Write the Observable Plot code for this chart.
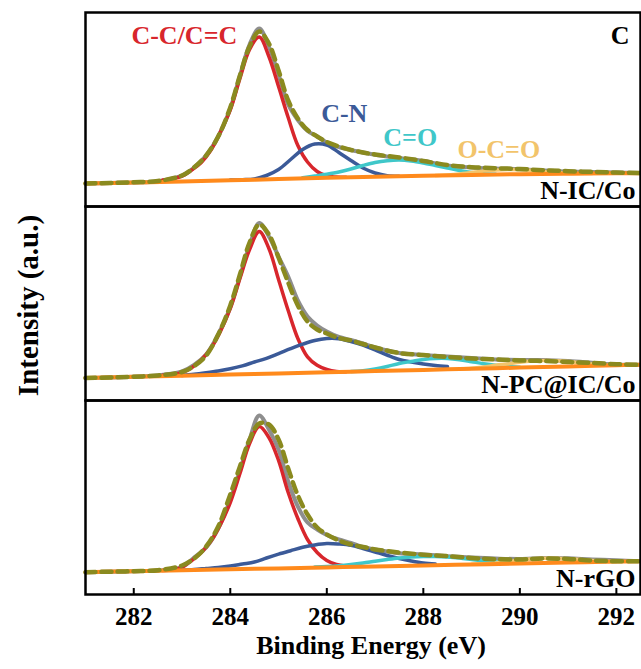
<!DOCTYPE html>
<html>
<head>
<meta charset="utf-8">
<script src="https://cdn.jsdelivr.net/npm/d3@7"></script>
<script src="https://cdn.jsdelivr.net/npm/@observablehq/plot@0.6"></script>
<style>
  html, body { margin: 0; padding: 0; background: #fff; }
  #chart { width: 641px; height: 669px; }
  #chart svg, #chart svg text { font-family: "Liberation Serif", "DejaVu Serif", serif !important; font-weight: bold; }
</style>
</head>
<body>
<div id="chart"></div>
<script>
// ---------- data (binding energy in eV, intensity in a.u.) ----------
const samples = ["N-IC/Co", "N-PC@IC/Co", "N-rGO"];
const componentNames = ["C-C/C=C", "C-N", "C=O", "O-C=O"];
const elementLabel = "C";
const xTicks = [282, 284, 286, 288, 290, 292];

// background (orange)
const baseX = [281, 282, 283, 284, 285, 286, 287, 288, 289, 290, 291, 292, 292.5];
const base1 = [23, 24, 25, 26.2, 27.5, 28.7, 29.8, 30.8, 31.6, 32.3, 32.8, 33.2, 33.3];
const base2 = [22.5, 23.7, 24.8, 26, 27.1, 28.3, 29.4, 30.6, 31.7, 32.9, 34, 35.2, 35.7];
const base3 = [22.3, 23.3, 24.2, 25.2, 26.1, 27.1, 28.1, 29, 30, 31, 31.9, 32.9, 33.3];

// measured spectrum (grey) and envelope (olive dashed)
const envX = [281, 281.5, 282, 282.5, 283, 283.25, 283.5, 283.75, 284, 284.2, 284.4, 284.6, 284.8,
  285, 285.2, 285.4, 285.6, 285.8, 286, 286.25, 286.5, 286.75, 287, 287.5, 288, 288.5, 289, 289.5,
  290, 290.5, 291, 291.5, 292, 292.5];
const gray1 = [23, 23.5, 24, 25.2, 31, 39, 51, 70, 98, 131, 162, 178, 160, 132, 102, 86.5, 75.7, 70, 64,
  59.5, 56.5, 54, 51.7, 48.5, 45.5, 41, 39, 38, 37.3, 36, 35, 34.6, 34, 33.5];
const dash1 = [23, 23.5, 24.2, 25.5, 31, 39, 51, 70, 99, 131, 160, 175, 163, 136, 106, 88, 76.5, 70, 64.5,
  60, 56.5, 54, 52, 49, 45.5, 41.5, 39.3, 38.3, 37.5, 36.3, 35.3, 34.6, 34, 33.5];
const gray2 = [22.5, 23, 23.8, 25, 29, 35.5, 46, 66, 93, 124, 155, 177.5, 164, 144, 124, 100, 84, 75, 69,
  63.5, 60.5, 57, 53, 47.5, 45.5, 44, 42.5, 41, 40.5, 40.5, 39.5, 37.8, 36, 35.7];
const dash2 = [22.5, 23, 23.8, 25, 28.5, 34.5, 45, 66, 95, 126, 158, 176, 166, 143, 118, 95, 79, 71, 67,
  62.5, 60, 56.5, 53, 47.5, 45.5, 43.5, 42, 41, 40, 39.5, 38.5, 37.5, 36.3, 35.7];
const gray3 = [22.3, 22.8, 23.3, 24, 27.5, 37, 47, 66, 95, 124, 155, 179, 165, 145, 113, 88, 72, 65, 59.5,
  55, 51.5, 47.5, 45, 41.3, 40, 38.3, 37, 36, 35.5, 36.5, 36.2, 35, 34.2, 33.3];
const dash3 = [22.3, 22.8, 23.3, 24.3, 29, 36, 48, 68, 100, 128, 155, 171, 170, 155, 126, 99, 80, 67, 60,
  54, 50, 47.5, 45, 42, 39.8, 38.3, 36.5, 35.3, 35, 36, 35.5, 34, 33.3, 33.3];

// C-C/C=C component (red)
const redX = [282.6, 282.8, 283.0, 283.2, 283.4, 283.6, 283.8, 284.0, 284.2, 284.4, 284.6, 284.8,
  285.0, 285.2, 285.4, 285.6, 285.8, 286.0, 286.2, 286.4];
const red1 = [26.4, 27.8, 30.3, 36.5, 44, 56.5, 75, 96.5, 128, 157, 169.5, 150, 120, 89, 61, 44.5, 35, 30.5, 29.5, 29.3];
const red2 = [25.2, 26.0, 27.8, 32.8, 40.7, 52.3, 69.6, 92, 122, 151, 169, 152, 121, 90, 62, 43.6, 35.2, 31, 29, 28.8];
const red3 = [23.9, 24.8, 27.2, 34, 42, 53.4, 70.3, 92, 121, 151, 168, 157, 134, 102, 76, 55, 42, 34, 30, 28.3];

// C-N component (blue)
const blueX = [283, 283.25, 283.5, 283.75, 284, 284.25, 284.5, 284.75, 285, 285.25, 285.5, 285.75,
  286, 286.25, 286.5, 286.75, 287, 287.25, 287.5, 287.75, 288, 288.25, 288.5];
const blue1 = [null, null, null, null, 26.4, 26.8, 27.6, 31, 37, 47, 57, 62.5, 61.5, 54, 46, 38.5, 33.5,
  30.8, 30.3, null, null, null, null];
const blue2 = [25.0, 26.2, 27.8, 29.6, 31.8, 34.6, 38.5, 42.2, 46.9, 51.8, 56.3, 60, 62, 61.8, 59, 55.3,
  50.5, 45.5, 41, 38.5, 36.5, 35, 34];
const blue3 = [24.5, 25, 26, 27, 28.5, 30.5, 32.5, 36.5, 40.3, 43.8, 47.2, 49.6, 51, 50.5, 49.2, 46,
  42.5, 39, 36, 33.5, 31.5, 30.5, null];

// C=O component (cyan)
const cyanX = [285.5, 285.75, 286, 286.25, 286.5, 286.75, 287, 287.25, 287.5, 287.75, 288, 288.25,
  288.5, 288.75, 289, 289.25, 289.5, 289.75, 290, 290.25, 290.5];
const cyan1 = [28.8, 30.5, 32.3, 34.5, 37.5, 41, 44, 45.8, 46.5, 45.5, 43.5, 41, 38.5, 36, 34, 32.8, 32.2,
  null, null, null, null];
const cyan2 = [null, null, null, null, 29, 29.8, 31.5, 34, 37, 39, 41, 42, 42, 40.8, 38.8, 36.8, 35.2, 34,
  33.3, null, null];
const cyan3 = [null, 27.5, 28, 28.8, 30, 31.5, 33.3, 35, 36.5, 37.5, 38, 38, 37.5, 36.5, 35, 33.5, 32.5,
  31.3, null, null, null];

// O-C=O component (yellow)
const yellowX = [288, 288.25, 288.5, 288.75, 289, 289.25, 289.5, 289.75, 290, 290.25, 290.5, 290.75,
  291, 291.25, 291.5, 291.75, 292];
const yellow1 = [null, 31.1, 31.6, 32.5, 34, 35.5, 36.5, 37, 36.8, 36, 35, 34, 33.3, 33, 32.9, null, null];
const yellow2 = [null, null, null, 31.6, 32.2, 33.5, 35.3, 36.5, 38.3, 39.5, 40, 39.8, 39, 37.8, 36.5, 35.3, 35.2];
const yellow3 = [null, null, null, null, 30.2, 30.7, 31.5, 33, 34.5, 35.7, 36.3, 36.3, 35.8, 35, 34, 33.3, 33];

// ---------- tidy table ----------
const rows = [];
function add(sample, series, xs, ys) {
  xs.forEach((x, i) => { if (ys[i] != null) rows.push({sample, series, x, y: ys[i]}); });
}
const perSample = [
  [base1, gray1, dash1, red1, blue1, cyan1, yellow1],
  [base2, gray2, dash2, red2, blue2, cyan2, yellow2],
  [base3, gray3, dash3, red3, blue3, cyan3, yellow3]
];
samples.forEach((s, k) => {
  const [b, g, d, r, bl, c, y] = perSample[k];
  add(s, "background", baseX, b);
  add(s, "raw", envX, g);
  add(s, "envelope", envX, d);
  add(s, componentNames[0], redX, r);
  add(s, componentNames[1], blueX, bl);
  add(s, componentNames[2], cyanX, c);
  add(s, componentNames[3], yellowX, y);
});

// ---------- styles ----------
const FONT = "Liberation Serif, DejaVu Serif, serif";
const colors = {
  "raw": "#8e8e8e",
  "C-C/C=C": "#d8262c",
  "C-N": "#3b5a98",
  "C=O": "#3fc7c9",
  "O-C=O": "#f2c46b",
  "background": "#ff8a1c",
  "envelope": "#8a8a1f"
};
const widths = {"raw": 4, "C-C/C=C": 3.5, "C-N": 3.5, "C=O": 3.5, "O-C=O": 3.5, "background": 4, "envelope": 4.5};
const order = ["raw", "C-C/C=C", "C-N", "C=O", "O-C=O", "background", "envelope"];

const lineMarks = order.map(s => Plot.line(rows.filter(r => r.series === s), {
  x: "x", y: "y", fy: "sample",
  stroke: colors[s], strokeWidth: widths[s],
  strokeDasharray: s === "envelope" ? "10,6" : null,
  curve: "catmull-rom"
}));

// component labels anchored at each component's apex in the first panel
function apex(xs, ys) {
  let bi = 0;
  ys.forEach((v, i) => { if (v != null && (ys[bi] == null || v > ys[bi])) bi = i; });
  return {x: xs[bi], y: ys[bi], fy: samples[0]};
}
const labelSpecs = [
  {name: componentNames[0], p: apex(redX, red1), dx: -22, dy: -1.5, anchor: "end"},
  {name: componentNames[1], p: apex(blueX, blue1), dx: 29.5, dy: -30.5, anchor: "middle"},
  {name: componentNames[2], p: apex(cyanX, cyan1), dx: 11, dy: -22.5, anchor: "middle"},
  {name: componentNames[3], p: apex(yellowX, yellow1), dx: -9, dy: -20, anchor: "middle"}
];
const labelMarks = labelSpecs.map(l => Plot.text([l.p], {
  x: "x", y: "y", fy: "fy", text: () => l.name,
  fill: colors[l.name], fontSize: 26, fontWeight: "bold", fontFamily: FONT,
  textAnchor: l.anchor, lineAnchor: "middle", dx: l.dx, dy: l.dy
}));

const chart = Plot.plot({
  width: 641,
  height: 669,
  marginLeft: 85,
  marginRight: 1,
  marginTop: 12,
  marginBottom: 75,
  style: {fontFamily: FONT, fontWeight: "bold", fontSize: "25px", color: "black", background: "white", overflow: "visible"},
  x: {domain: [281, 292.5], ticks: xTicks, tickSize: 0, tickPadding: 13, tickFormat: d => String(d), label: null},
  y: {domain: [0, 194], axis: null},
  fy: {domain: samples, padding: 0, axis: null},
  marks: [
    ...lineMarks,
    ...labelMarks,
    Plot.ruleX(xTicks, {x: d => d, y1: 0, y2: 6, fy: () => samples[2], stroke: "black", strokeWidth: 2}),
    Plot.frame({stroke: "black", strokeWidth: 2.5}),
    Plot.text(samples, {fy: d => d, text: d => d, frameAnchor: "bottom-right", textAnchor: "end",
      lineAnchor: "middle", dx: -5, dy: -16, fontSize: 26, fontWeight: "bold", fontFamily: FONT, fill: "black"}),
    Plot.text([elementLabel], {fy: () => samples[0], text: d => d, frameAnchor: "top-right", textAnchor: "end",
      lineAnchor: "middle", dx: -11, dy: 23, fontSize: 26, fontWeight: "bold", fontFamily: FONT, fill: "black"}),
    Plot.text(["Intensity (a.u.)"], {fy: () => samples[1], text: d => d, frameAnchor: "left", rotate: -90,
      textAnchor: "middle", lineAnchor: "middle", dx: -57, dy: 2, fontSize: 29, fontWeight: "bold", fontFamily: FONT, fill: "black"}),
    Plot.text(["Binding Energy (eV)"], {fy: () => samples[2], text: d => d, frameAnchor: "bottom",
      textAnchor: "middle", lineAnchor: "middle", dx: 8, dy: 51, fontSize: 26, fontWeight: "bold", fontFamily: FONT, fill: "black"})
  ]
});
document.getElementById("chart").appendChild(chart);
</script>
</body>
</html>
